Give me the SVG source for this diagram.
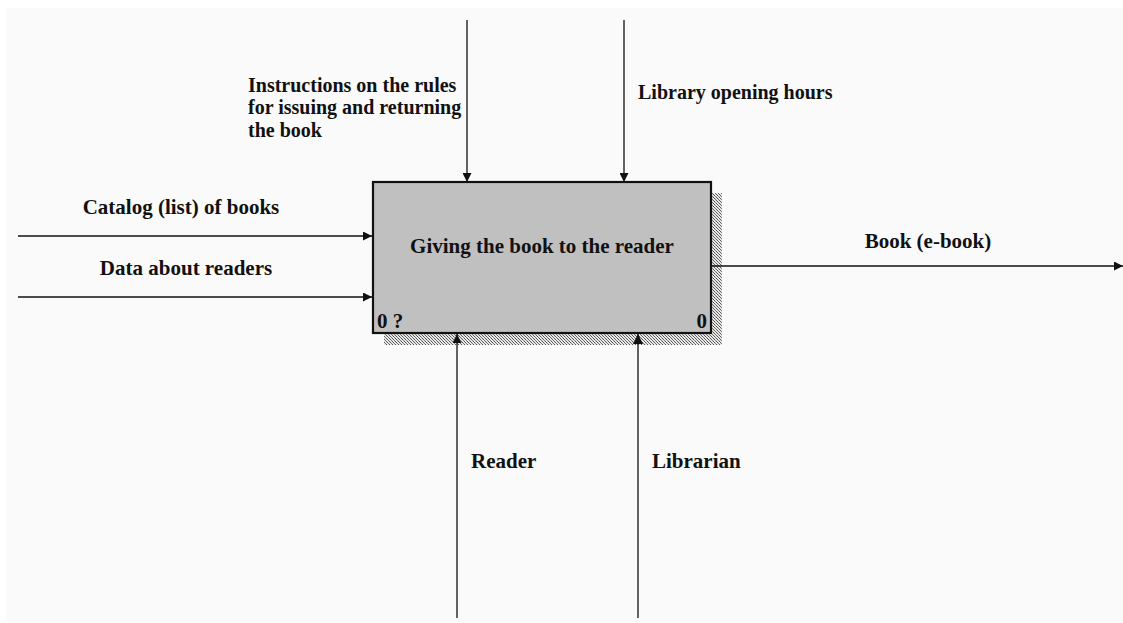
<svg xmlns="http://www.w3.org/2000/svg" width="1123" height="623" viewBox="0 0 1123 623">
<style>
.lbl{font-family:"Liberation Serif","Times New Roman",serif;font-weight:bold;font-size:21px;fill:#111}
.sm{font-size:20px}
.ln{stroke:#111;stroke-width:1.3;fill:none}
</style>
<defs>
<marker id="ah" viewBox="0 0 10 10" refX="10" refY="5" markerWidth="9" markerHeight="9" markerUnits="userSpaceOnUse" orient="auto">
<path d="M0,0 L10,5 L0,10 z" fill="#111"/>
</marker>
<marker id="ah2" viewBox="0 0 10 10" refX="10" refY="5" markerWidth="10" markerHeight="10" markerUnits="userSpaceOnUse" orient="auto">
<path d="M0,0 L10,5 L0,10 z" fill="#111"/>
</marker>
<pattern id="hatch" width="3" height="3" patternUnits="userSpaceOnUse">
<rect width="3" height="3" fill="#e8e8e8"/>
<rect x="0" y="0" width="1" height="1" fill="#555"/>
<rect x="1" y="1" width="1" height="1" fill="#777"/>
<rect x="2" y="2" width="1" height="1" fill="#555"/>
</pattern>
</defs>
<rect x="0" y="0" width="1123" height="623" fill="#ffffff"/>
<rect x="6" y="8" width="1117" height="614" fill="#fafafa"/>
<g id="node-A0">
<rect x="712" y="193" width="10" height="152" fill="url(#hatch)"/>
<rect x="384" y="333" width="338" height="12" fill="url(#hatch)"/>
<rect x="373" y="182" width="338" height="151" fill="#c0c0c0" stroke="#111" stroke-width="2.2"/>
<text class="lbl" x="542" y="253" text-anchor="middle">Giving the book to the reader</text>
<text class="lbl" x="377" y="328">0 ?</text>
<text class="lbl" x="707" y="328" text-anchor="end">0</text>
</g>
<g id="connectors">
<line class="ln" x1="467" y1="20" x2="467" y2="182" marker-end="url(#ah)"/>
<line class="ln" x1="624" y1="20" x2="624" y2="182" marker-end="url(#ah)"/>
<line class="ln" x1="18" y1="236" x2="372" y2="236" marker-end="url(#ah)"/>
<line class="ln" x1="18" y1="297" x2="372" y2="297" marker-end="url(#ah)"/>
<line class="ln" x1="712" y1="266" x2="1123" y2="266" marker-end="url(#ah)"/>
<line class="ln" x1="457" y1="618" x2="457" y2="334" marker-end="url(#ah)"/>
<line class="ln" x1="638" y1="618" x2="638" y2="334" stroke-width="2.6" marker-end="url(#ah2)"/>
<text class="lbl sm" x="248" y="92">Instructions on the rules</text>
<text class="lbl sm" x="248" y="114">for issuing and returning</text>
<text class="lbl sm" x="248" y="137">the book</text>
<text class="lbl sm" x="638" y="99">Library opening hours</text>
<text class="lbl" x="181" y="214" text-anchor="middle">Catalog (list) of books</text>
<text class="lbl" x="186" y="275" text-anchor="middle">Data about readers</text>
<text class="lbl" x="928" y="248" text-anchor="middle">Book (e-book)</text>
<text class="lbl" x="471" y="468">Reader</text>
<text class="lbl" x="652" y="468">Librarian</text>
</g>
</svg>
